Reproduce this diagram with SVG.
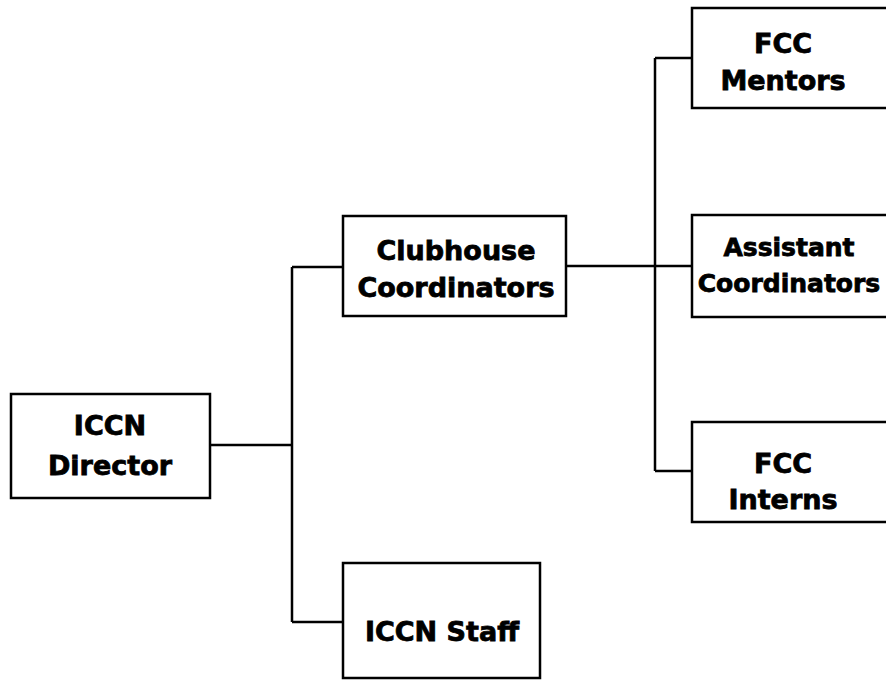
<svg xmlns="http://www.w3.org/2000/svg" width="886" height="683" viewBox="0 0 886 683">
<style>
.box{fill:#fff;stroke:#000;stroke-width:2.5}
.lbl{font-family:"DejaVu Sans",Verdana,sans-serif;font-weight:bold;font-size:27px;text-anchor:middle;fill:#000;stroke:#000;stroke-width:0.8}
.sm{font-size:25px}
.ln{fill:none;stroke:#000;stroke-width:2.5}
</style>
<rect width="886" height="683" fill="#fff"/>
<g id="connectors">
<path class="ln" d="M210 445H292M292 267V622M292 267H343M292 622H343"/>
<path class="ln" d="M566 266H692M655 58V471M655 58H692M655 471H692"/>
</g>
<g id="director"><rect class="box" x="11" y="394" width="199" height="104"/>
<text class="lbl" x="110" y="435">ICCN</text><text class="lbl" x="110" y="475">Director</text></g>
<g id="clubhouse"><rect class="box" x="343" y="216" width="223" height="100"/>
<text class="lbl" x="456" y="260">Clubhouse</text><text class="lbl" x="456" y="297">Coordinators</text></g>
<g id="staff"><rect class="box" x="343" y="563" width="197" height="115"/>
<text class="lbl" x="442" y="641">ICCN Staff</text></g>
<g id="mentors"><rect class="box" x="692" y="8" width="210" height="100"/>
<text class="lbl" x="783" y="53">FCC</text><text class="lbl" x="783" y="90">Mentors</text></g>
<g id="assistant"><rect class="box" x="692" y="215" width="210" height="102"/>
<text class="lbl sm" x="789" y="256">Assistant</text><text class="lbl sm" x="789" y="292">Coordinators</text></g>
<g id="interns"><rect class="box" x="692" y="422" width="210" height="100"/>
<text class="lbl" x="783" y="473">FCC</text><text class="lbl" x="783" y="509">Interns</text></g>
</svg>
